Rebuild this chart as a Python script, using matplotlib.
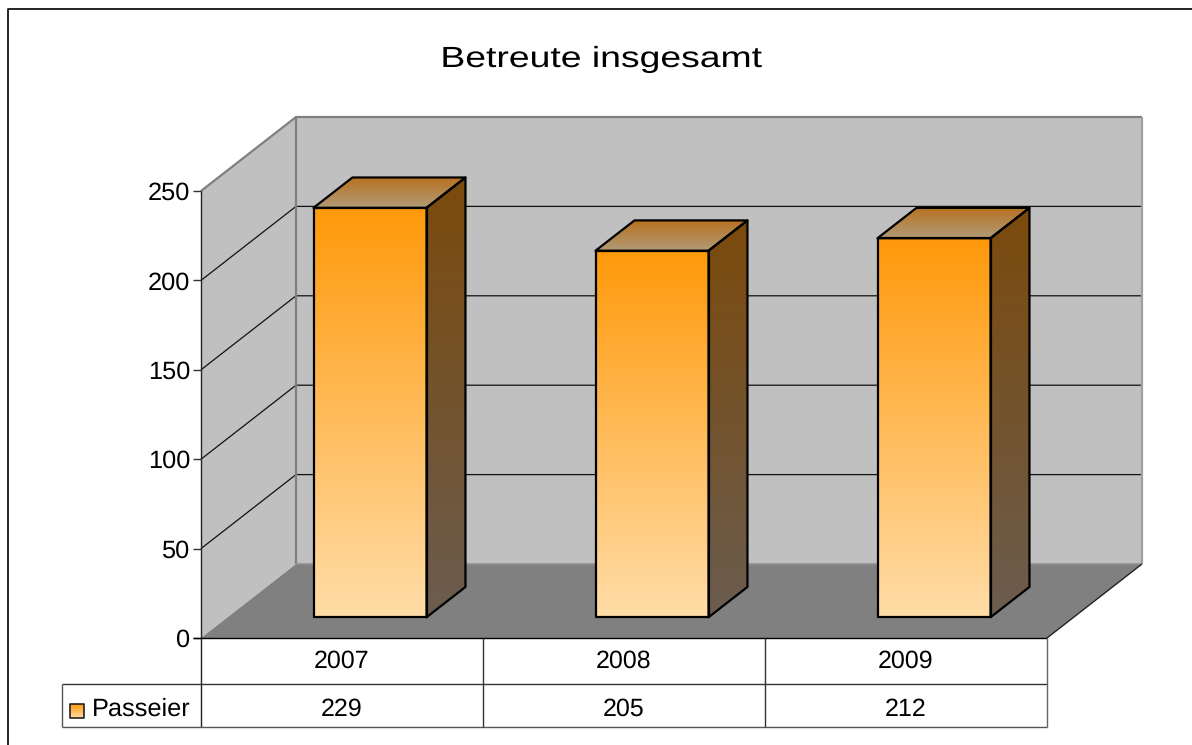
import numpy as np
import matplotlib
matplotlib.use("Agg")
import matplotlib.pyplot as plt
from matplotlib.colors import LinearSegmentedColormap
from matplotlib.patches import Polygon
from matplotlib.patheffects import AbstractPathEffect
from matplotlib.transforms import Affine2D

W, H = 1192, 745

years = ["2007", "2008", "2009"]
series_name = "Passeier"
values = [229, 205, 212]
y_ticks = [0, 50, 100, 150, 200, 250]
title = "Betreute insgesamt"

# one unit of depth is the whole floor, going up and right
DEPTH_X = 95 / 282
DEPTH_Y = 74 / 1.788
BAR_WIDTH = 113 / 282
BAR_FRONT = 0.28
BAR_BACK = 0.69

plt.rcParams['font.family'] = ['Liberation Sans', 'DejaVu Sans']
plt.rcParams['text.hinting'] = 'none'


class StretchX(AbstractPathEffect):
    # the title in the original is set much wider than the font
    def __init__(self, factor, center):
        super().__init__()
        self.factor = factor
        self.center = center

    def draw_path(self, renderer, gc, tpath, affine, rgbFace=None):
        t = Affine2D().translate(-self.center, 0).scale(self.factor, 1).translate(self.center, 0)
        renderer.draw_path(gc, tpath, affine + t, rgbFace)


fig = plt.figure(figsize=(W / 100, H / 100), dpi=100, facecolor='white')
ax = fig.add_axes([201 / W, 1 - 638 / H, 846 / W, 447 / H])
ax.set_xlim(0, 3)
ax.set_ylim(0, 250)
ax.axis('off')

PX_Y = 250 / 447
PX_X = 3 / 846

def proj(x, y, d=0.0):
    return x + d * DEPTH_X, y + d * DEPTH_Y

def poly(points, **kw):
    p = Polygon(points, closed=True, clip_on=False, **kw)
    ax.add_patch(p)
    return p

def gradient(points, c_top, c_bottom, edge='black', lw=1.6):
    # vertical gradient clipped to a polygon
    pts = np.array(points)
    cmap = LinearSegmentedColormap.from_list('g', [c_top, c_bottom])
    clip = poly(points, facecolor='none', edgecolor='none')
    im = ax.imshow(np.linspace(0, 1, 256).reshape(-1, 1), cmap=cmap, aspect='auto',
                   extent=[pts[:, 0].min(), pts[:, 0].max(), pts[:, 1].min(), pts[:, 1].max()],
                   zorder=3)
    im.set_clip_path(clip)
    im.set_clip_box(fig.bbox)
    poly(points, facecolor='none', edgecolor=edge, linewidth=lw, zorder=4, joinstyle='round')

def line(xs, ys, color='black', lw=1.0, z=2):
    ax.plot(xs, ys, color=color, lw=lw, clip_on=False, zorder=z, solid_capstyle='butt')

# walls and floor
top = y_ticks[-1]
poly([proj(0, 0), proj(0, 0, 1), proj(0, top, 1), proj(0, top)], facecolor='#c0c0c0', edgecolor='none', zorder=1)
poly([proj(0, 0, 1), proj(3, 0, 1), proj(3, top, 1), proj(0, top, 1)], facecolor='#c0c0c0', edgecolor='none', zorder=1)
poly([proj(0, 0), proj(3, 0), proj(3, 0, 1), proj(0, 0, 1)], facecolor='#808080', edgecolor='none', zorder=1)

for t in y_ticks[1:-1]:
    a, b = proj(0, t), proj(0, t, 1)
    c = proj(3, t, 1)
    line([a[0], b[0], c[0]], [a[1], b[1], c[1]], color='#111111', lw=0.9)

# grey wall outlines
a, b, c = proj(0, top), proj(0, top, 1), proj(3, top, 1)
line([a[0], b[0], c[0]], [a[1], b[1], c[1]], color='#808080', lw=1.6)
a, b = proj(0, 0, 1), proj(0, top, 1)
line([a[0], b[0]], [a[1], b[1]], color='#808080', lw=1.6)
a, b = proj(3, 0, 1), proj(3, top, 1)
line([a[0], b[0]], [a[1], b[1]], color='#a0a0a0', lw=1.6)
a, b = proj(0, 0, 1), proj(3, 0, 1)
line([a[0], b[0]], [a[1], b[1]], color='#909090', lw=1.2)
a, b = proj(3, 0), proj(3, 0, 1)
line([a[0], b[0]], [a[1], b[1]], color='#222222', lw=1.0)

# bars
for i, v in enumerate(values):
    cx = i + 0.5 + BAR_FRONT * DEPTH_X + 0.005
    x0, x1 = cx - BAR_WIDTH / 2, cx + BAR_WIDTH / 2
    dd = BAR_BACK - BAR_FRONT
    y0 = BAR_FRONT * DEPTH_Y
    y1 = y0 + v
    gradient([(x0, y0), (x1, y0), (x1, y1), (x0, y1)], '#ff990a', '#ffdda8')
    gradient([(x1, y0), proj(x1, y0, dd), proj(x1, y1, dd), (x1, y1)], '#7c4a0c', '#6b5d4f')
    gradient([(x0, y1), (x1, y1), proj(x1, y1, dd), proj(x0, y1, dd)], '#b8711f', '#b19b78')

# y axis and ticks
tick_len = 8 * PX_X
for t in y_ticks:
    line([-tick_len, 0], [t, t], color='#333333', lw=1.0, z=5)
    ax.text(-11 * PX_X, t - 9 * PX_Y, str(t), ha='right', va='baseline', fontsize=18.3, color='black')

# data table below the plot
row1 = -46 * PX_Y
row2 = -89 * PX_Y
text_row1 = -30 * PX_Y
text_row2 = -78 * PX_Y
legend_x = -139 * PX_X
line([0, 0], [250, row2], color='#222222', lw=1.0, z=5)
line([-tick_len, 3], [0, 0], color='black', lw=1.0, z=5)
line([legend_x, 3], [row1, row1], color='#333333', lw=1.0, z=5)
line([legend_x, 3], [row2, row2], color='#555555', lw=1.0, z=5)
line([legend_x, legend_x], [row1, row2], color='#555555', lw=1.0, z=5)
line([3, 3], [0, row2], color='#666666', lw=1.0, z=5)
for i in (1, 2):
    line([i, i], [0, row2], color='#333333', lw=1.0, z=5)
for i, (yr, v) in enumerate(zip(years, values)):
    ax.text(i + 0.5, text_row1, yr, ha='center', va='baseline', fontsize=18, color='black')
    ax.text(i + 0.5, text_row2, str(v), ha='center', va='baseline', fontsize=18, color='black')

# legend key and name in the table
kx0, kx1 = -131 * PX_X, -117 * PX_X
ky1 = -66 * PX_Y
ky0 = -80 * PX_Y
gradient([(kx0, ky0), (kx1, ky0), (kx1, ky1), (kx0, ky1)], '#ff990a', '#ffdda8', edge='#222222', lw=1.2)
ax.text(-109 * PX_X, text_row2, series_name, ha='left', va='baseline', fontsize=18.3, color='black')

ax.set_xlim(0, 3)
ax.set_ylim(0, 250)

# chart frame, open at the right and bottom
fig.add_artist(plt.Line2D([8 / W, 8 / W, 1], [0, 1 - 9 / H, 1 - 9 / H], color='black', lw=1.2))
fig.text(601 / W, 1 - 67 / H, title, ha='center', va='baseline', fontsize=21, color='black',
         path_effects=[StretchX(1.28, 601)])

fig.savefig('out.png', dpi=100)
